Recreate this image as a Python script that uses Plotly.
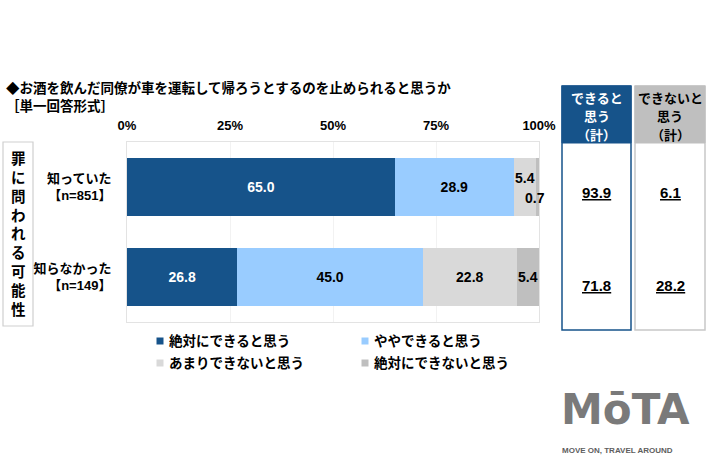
import plotly.graph_objects as go

W, H = 710, 473

categories = ["知っていた<br>【n=851】", "知らなかった<br>【n=149】"]
series_names = ["絶対にできると思う", "ややできると思う", "あまりできないと思う", "絶対にできないと思う"]
series_colors = ["#16538a", "#99ccff", "#d9d9d9", "#bfbfbf"]
label_colors = ["white", "black", "black", "black"]
values = [
    [65.0, 26.8],
    [28.9, 45.0],
    [5.4, 22.8],
    [0.7, 5.4],
]
tick_vals = [0, 25, 50, 75, 100]
tick_text = ["0%", "25%", "50%", "75%", "100%"]
can_total = ["93.9", "71.8"]
cannot_total = ["6.1", "28.2"]

title_text = "◆お酒を飲んだ同僚が車を運転して帰ろうとするのを止められると思うか"
subtitle_text = "［単一回答形式］"
side_label = "罪に問われる可能性"
header_can = ["できると", "思う", "（計）"]
header_cannot = ["できないと", "思う", "（計）"]

FONT = "Liberation Sans, Arial, Noto Sans CJK JP, sans-serif"


def px(x):
    return x / W


def py(y):
    return 1 - y / H


fig = go.Figure()

# bars; labels for tiny segments of the first row are placed separately
for i, name in enumerate(series_names):
    texts = []
    for j, v in enumerate(values[i]):
        if j == 0 and i >= 2:
            texts.append("")
        else:
            texts.append(f"{v:.1f}")
    fig.add_trace(go.Bar(
        name=name,
        y=categories,
        x=values[i],
        orientation="h",
        marker=dict(color=series_colors[i], line=dict(width=0)),
        text=texts,
        textposition="inside",
        insidetextanchor="middle",
        textangle=0,
        textfont=dict(family=FONT, size=14, color=label_colors[i], weight="bold"),
        showlegend=False,
        hoverinfo="skip",
    ))

fig.update_layout(
    width=W, height=H,
    autosize=False,
    margin=dict(l=0, r=0, t=0, b=0, pad=0),
    paper_bgcolor="white",
    plot_bgcolor="white",
    barmode="stack",
    bargap=0.365,
    uniformtext=dict(minsize=14, mode="show"),
    font=dict(family=FONT, size=13, color="black"),
    xaxis=dict(
        domain=[px(127), px(539)],
        range=[0, 100],
        side="top",
        automargin=False,
        tickvals=tick_vals,
        ticktext=tick_text,
        tickfont=dict(family=FONT, size=13, color="black", weight="bold"),
        showgrid=True, gridcolor="#f2f2f2", gridwidth=1,
        zeroline=False,
        showline=True, linecolor="#e3e3e3", linewidth=1, mirror=True,
        ticks="", ticklabelstandoff=6,
        fixedrange=True,
    ),
    yaxis=dict(
        domain=[py(322), py(142)],
        autorange="reversed",
        automargin=False,
        tickfont=dict(family=FONT, size=13, color="black", weight="bold"),
        showgrid=False, zeroline=False,
        showline=True, linecolor="#e3e3e3", linewidth=1, mirror=True,
        ticks="", ticklabelstandoff=12,
        fixedrange=True,
    ),
)

ann = []

# small labels in first row
cum0 = sum(values[k][0] for k in range(2))
ann.append(dict(x=cum0 + values[2][0] / 2, y=categories[0], xref="x", yref="y",
                text=f"{values[2][0]:.1f}", showarrow=False, yshift=9, xshift=0,
                font=dict(family=FONT, size=14, color="black", weight="bold")))
cum1 = cum0 + values[2][0]
ann.append(dict(x=cum1 + values[3][0] / 2, y=categories[0], xref="x", yref="y",
                text=f"{values[3][0]:.1f}", showarrow=False, yshift=-11, xshift=-3,
                font=dict(family=FONT, size=14, color="black", weight="bold")))

# title
ann.append(dict(x=px(4), y=py(88), xref="paper", yref="paper", xanchor="left", yanchor="middle",
                text=title_text, showarrow=False,
                font=dict(family=FONT, size=13.5, color="black", weight="bold")))
ann.append(dict(x=px(4), y=py(106), xref="paper", yref="paper", xanchor="left", yanchor="middle",
                text=subtitle_text, showarrow=False,
                font=dict(family=FONT, size=13.5, color="black", weight="bold")))

# side label box
shapes = []
shapes.append(dict(type="rect", xref="paper", yref="paper", layer="below",
                   x0=px(3), x1=px(33), y0=py(326), y1=py(142),
                   line=dict(color="#cfcfcf", width=1.2), fillcolor="white"))
ann.append(dict(x=px(18), y=py(234), xref="paper", yref="paper", xanchor="center", yanchor="middle",
                text="<br>".join(list(side_label)), showarrow=False,
                font=dict(family=FONT, size=14.5, color="black", weight="bold")))

# right summary boxes
boxes = [
    (562, 631, "#16538a", "#16538a", "white", header_can, can_total),
    (635, 705, "#bfbfbf", "#c8c8c8", "black", header_cannot, cannot_total),
]
row_y = [193, 285]
head_y = [98, 116.5, 135]
for x0, x1, hdr, border, tcol, hlines, vals in boxes:
    shapes.append(dict(type="rect", xref="paper", yref="paper",
                       x0=px(x0), x1=px(x1), y0=py(330), y1=py(86),
                       line=dict(color=border, width=1.5), fillcolor="white"))
    shapes.append(dict(type="rect", xref="paper", yref="paper",
                       x0=px(x0), x1=px(x1), y0=py(143), y1=py(86),
                       line=dict(color=hdr, width=1), fillcolor=hdr))
    for t, yy in zip(hlines, head_y):
        ann.append(dict(x=px((x0 + x1) / 2), y=py(yy), xref="paper", yref="paper",
                        xanchor="center", yanchor="middle", text=t, showarrow=False,
                        font=dict(family=FONT, size=13, color=tcol, weight="bold")))
    for v, yy in zip(vals, row_y):
        ann.append(dict(x=px((x0 + x1) / 2), y=py(yy), xref="paper", yref="paper",
                        xanchor="center", yanchor="middle", text=f"<u>{v}</u>", showarrow=False,
                        font=dict(family=FONT, size=15, color="black", weight="bold")))

# legend (manual, 2 columns)
leg_pos = [(160, 341), (365, 341), (160, 363), (365, 363)]
for (lx, ly), name, col in zip(leg_pos, series_names, series_colors):
    shapes.append(dict(type="rect", xref="paper", yref="paper",
                       x0=px(lx - 3.5), x1=px(lx + 3.5), y0=py(ly + 3.5), y1=py(ly - 3.5),
                       line=dict(width=0), fillcolor=col))
    ann.append(dict(x=px(lx + 7), y=py(ly), xref="paper", yref="paper",
                    xanchor="left", yanchor="middle", text=name, showarrow=False,
                    font=dict(family=FONT, size=13.5, color="black", weight="bold")))

# logo
ann.append(dict(x=px(625), y=py(409), xref="paper", yref="paper", xanchor="center", yanchor="middle",
                text="MōTA", showarrow=False,
                font=dict(family="DejaVu Sans, sans-serif", size=42, color="#7a7a7a", weight="bold")))
ann.append(dict(x=px(617), y=py(450), xref="paper", yref="paper", xanchor="center", yanchor="middle",
                text="MOVE ON, TRAVEL AROUND", showarrow=False,
                font=dict(family=FONT, size=8, color="#5e5e5e", weight="bold")))

fig.update_layout(annotations=ann, shapes=shapes)

post_js = ("document.documentElement.style.margin='0';document.body.style.margin='0';"
           "document.body.style.padding='0';document.documentElement.style.overflow='hidden';")
fig.write_html("out.html", config={"responsive": False, "displayModeBar": False},
               post_script=post_js)
